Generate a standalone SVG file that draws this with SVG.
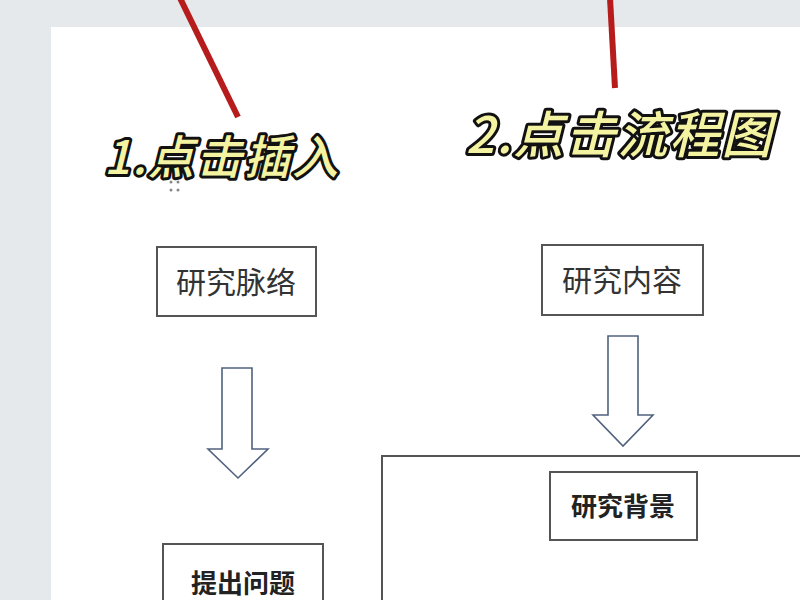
<svg xmlns="http://www.w3.org/2000/svg" width="800" height="600" viewBox="0 0 800 600">
<defs>
<style>
.box{fill:#fff;stroke:#555;stroke-width:2}
.arrow{fill:#fff;stroke:#50627e;stroke-width:1.6;stroke-linejoin:miter}
.lbl{font-family:"Noto Sans CJK SC","Noto Sans",sans-serif;font-size:30px;fill:#333;text-anchor:middle}
.lblb{font-family:"Noto Sans CJK SC","Noto Sans",sans-serif;font-size:26px;font-weight:bold;fill:#222;text-anchor:middle}
.ann{font-family:"Noto Sans CJK SC","Noto Sans",sans-serif;font-weight:500;font-style:italic;fill:#f4f3a2;stroke:#111;stroke-width:6;paint-order:stroke;stroke-linejoin:round;letter-spacing:2px}
.red{stroke:#b71c1c;stroke-width:6;stroke-linecap:butt}
</style>
</defs>
<rect x="0" y="0" width="800" height="600" fill="#e6e9ec"/>
<rect x="51" y="27" width="749" height="573" fill="#fff"/>
<g id="handles" fill="#888">
<circle cx="171" cy="182" r="1.5"/><circle cx="178" cy="182" r="1.5"/>
<circle cx="171" cy="190" r="1.5"/><circle cx="178" cy="190" r="1.5"/>
</g>
<g id="node-yanjiumailuo"><rect class="box" x="157" y="247" width="159" height="69"/><text class="lbl" x="236" y="293">研究脉络</text></g>
<g id="node-yanjiuneirong"><rect class="box" x="542" y="245" width="161" height="70"/><text class="lbl" x="622" y="291">研究内容</text></g>
<g id="node-container"><rect class="box" x="382" y="456" width="430" height="160"/></g>
<g id="node-yanjiubeijing"><rect class="box" x="550" y="472" width="147" height="68"/><text class="lblb" x="623" y="516">研究背景</text></g>
<g id="node-tichuwenti"><rect class="box" x="163" y="544" width="160" height="70"/><text class="lblb" x="243" y="593">提出问题</text></g>
<g id="connectors">
<path class="arrow" d="M222,368 H252 V449 H268 L238,478 L208,449 H222 Z"/>
<path class="arrow" d="M608,336 H638 V415 H653 L623,446 L593,415 H608 Z"/>
</g>
<g id="annotations">
<line class="red" x1="180" y1="-2" x2="238" y2="117"/>
<line class="red" x1="610" y1="-2" x2="615" y2="88"/>
<text class="ann" x="104" y="174" font-size="46">1.点击插入</text>
<text class="ann" x="466" y="153" font-size="50">2.点击流程图</text>
</g>
</svg>
